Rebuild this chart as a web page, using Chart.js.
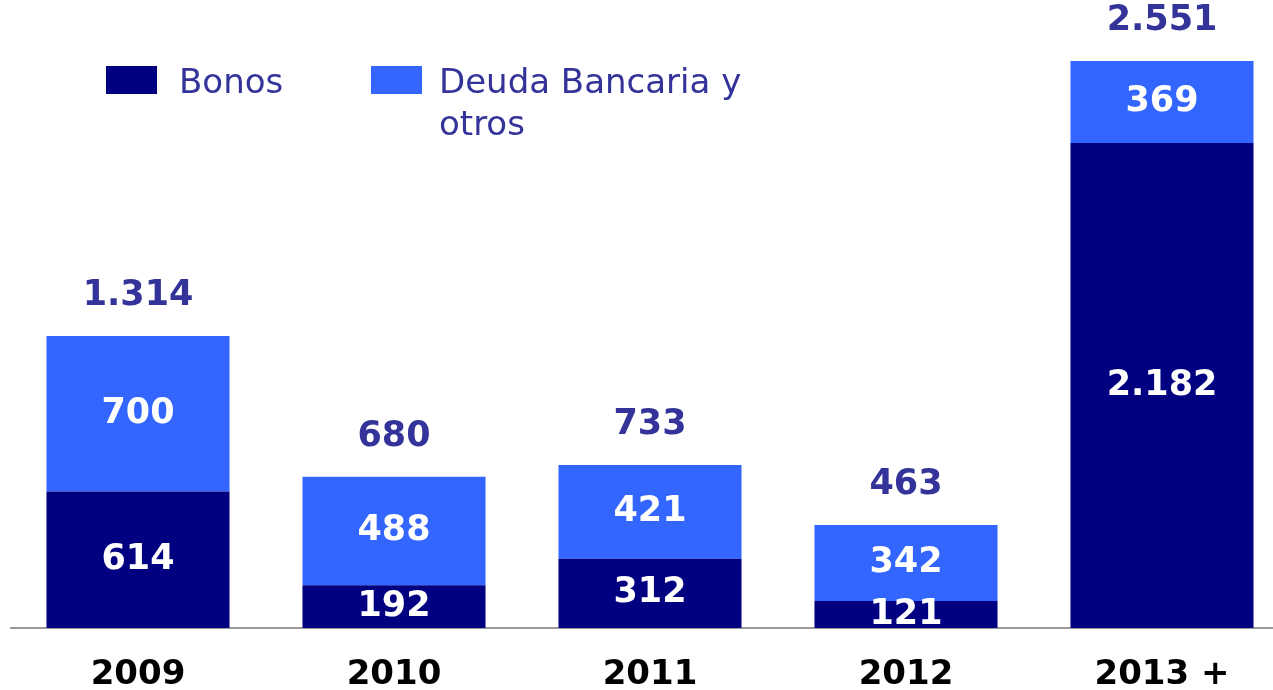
<!DOCTYPE html>
<html>
<head>
<meta charset="utf-8">
<script src="https://cdn.jsdelivr.net/npm/chart.js@4"></script>
<style>
    html, body { margin: 0; padding: 0; background: #fff; overflow: hidden; }
    #wrap { position: absolute; left: 10px; top: 0; width: 1280px; height: 690px; }
</style>
</head>
<body>
<div id="wrap"><canvas id="myChart"></canvas></div>
<script>
let years = ['2009', '2010', '2011', '2012', '2013 +'];
let bonos = [614, 192, 312, 121, 2182];
let deudaBancaria = [700, 488, 421, 342, 369];
let seriesNames = ['Bonos', 'Deuda Bancaria y otros'];

let colors = {
    bonos: '#000080',
    deuda: '#3366FF',
    text: '#333399',
};

const fontFamily = '"DejaVu Sans", Verdana, sans-serif';

function fmt(n) {
    return String(n).replace(/\B(?=(\d{3})+(?!\d))/g, '.');
}

// white numbers inside each segment, totals above each stack
const valueLabels = {
    id: 'valueLabels',
    afterDatasetsDraw(chart) {
        const ctx = chart.ctx;
        ctx.save();
        ctx.textAlign = 'center';
        ctx.textBaseline = 'middle';
        ctx.font = 'bold 35px ' + fontFamily;
        ctx.fillStyle = '#fff';
        chart.data.datasets.forEach((ds, i) => {
            chart.getDatasetMeta(i).data.forEach((bar, j) => {
                ctx.fillText(fmt(ds.data[j]), bar.x, (bar.y + bar.base) / 2);
            });
        });
        const last = chart.getDatasetMeta(chart.data.datasets.length - 1);
        ctx.fillStyle = colors.text;
        last.data.forEach((bar, j) => {
            let total = 0;
            chart.data.datasets.forEach(ds => total += ds.data[j]);
            ctx.fillText(fmt(total), bar.x, bar.y - 40);
        });
        ctx.restore();
    }
};

// legend in the top left, long labels wrap onto a second line
const boxLegend = {
    id: 'boxLegend',
    afterDraw(chart) {
        const ctx = chart.ctx;
        const items = [{ x: 96, w: 260 }, { x: 361, w: 340 }];
        ctx.save();
        ctx.font = '34px ' + fontFamily;
        ctx.textBaseline = 'middle';
        ctx.textAlign = 'left';
        chart.data.datasets.forEach((ds, i) => {
            const it = items[i];
            ctx.fillStyle = ds.backgroundColor;
            ctx.fillRect(it.x, 66, 51, 28);
            let lines = [];
            let line = '';
            ds.label.split(' ').forEach(word => {
                const test = line ? line + ' ' + word : word;
                if (ctx.measureText(test).width > it.w && line) {
                    lines.push(line);
                    line = word;
                } else {
                    line = test;
                }
            });
            lines.push(line);
            ctx.fillStyle = colors.text;
            lines.forEach((l, k) => ctx.fillText(l, it.x + 73 - (i ? 5 : 0), 84 + k * 42));
        });
        ctx.restore();
    }
};

const ctx = document.getElementById('myChart');

new Chart(ctx, {
    type: 'bar',
    data: {
        labels: years,
        datasets: [{
            label: seriesNames[0],
            data: bonos,
            backgroundColor: colors.bonos,
        }, {
            label: seriesNames[1],
            data: deudaBancaria,
            backgroundColor: colors.deuda,
        }]
    },
    options: {
        responsive: true,
        maintainAspectRatio: false,
        animation: false,
        barPercentage: 0.715,
        categoryPercentage: 1,
        layout: { padding: 0 },
        scales: {
            x: {
                stacked: true,
                grid: { display: false, drawTicks: false },
                border: { display: true, color: '#999999', width: 2 },
                ticks: {
                    color: '#000',
                    padding: 27,
                    font: { family: fontFamily, size: 34, weight: 'bold' },
                    maxRotation: 0,
                    autoSkip: false,
                },
                afterFit(scale) {
                    scale.height = 62;
                }
            },
            y: {
                stacked: true,
                display: false,
                min: 0,
                max: 2825,
            }
        },
        plugins: {
            legend: { display: false },
            tooltip: { enabled: false },
        }
    },
    plugins: [valueLabels, boxLegend]
});
</script>
</body>
</html>
